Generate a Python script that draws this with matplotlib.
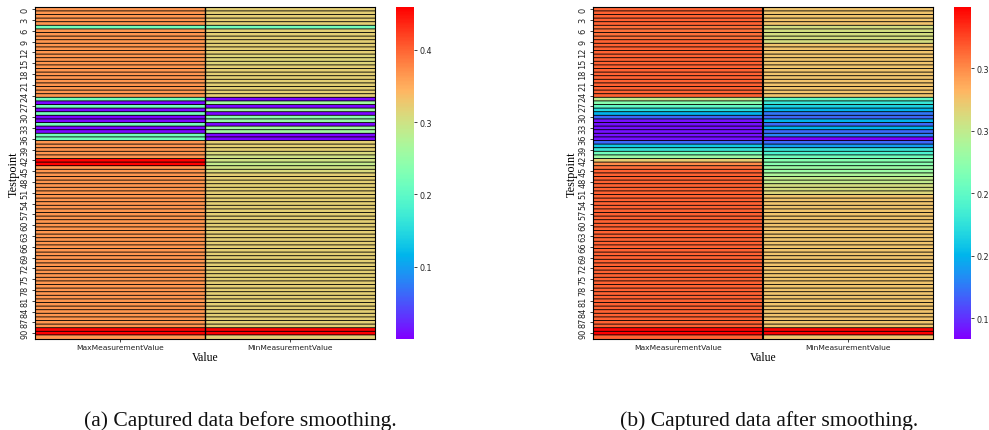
#!/usr/bin/env python3

import matplotlib
matplotlib.use('Agg')
import matplotlib.pyplot as plt
import numpy as np

COLUMNS = ['MaxMeasurementValue', 'MinMeasurementValue']
ROW_TICKS = list(range(0, 92, 3))

# panel (a), before smoothing, rows 0-91
BEFORE_MAX = [
    .367, .367, .367, .367, .367, .22, .367, .367, .367, .367,
    .367, .367, .367, .367, .367, .367, .367, .367, .367, .367,
    .367, .367, .367, .367, .367, .22, .005, .22, .005, .22,
    .005, .005, .22, .005, .005, .22, .22, .367, .367, .367,
    .367, .367, .459, .459, .367, .367, .367, .367, .367, .367,
    .367, .367, .367, .367, .367, .367, .367, .367, .367, .367,
    .367, .367, .367, .367, .367, .367, .367, .367, .367, .367,
    .367, .367, .367, .367, .367, .367, .367, .367, .367, .367,
    .367, .367, .367, .367, .367, .367, .367, .367, .367, .459,
    .459, .367,
]
BEFORE_MIN = [
    .32, .32, .32, .32, .32, .22, .32, .32, .32, .32,
    .32, .32, .32, .315, .315, .315, .32, .32, .32, .32,
    .32, .32, .32, .32, .32, .005, .26, .005, .26, .005,
    .24, .25, .005, .26, .26, .005, .005, .32, .32, .32,
    .31, .30, .30, .29, .30, .31, .32, .32, .32, .32,
    .32, .32, .32, .32, .32, .32, .32, .32, .32, .32,
    .32, .32, .32, .32, .32, .32, .32, .32, .32, .32,
    .32, .32, .32, .32, .32, .32, .32, .32, .32, .32,
    .32, .32, .32, .32, .32, .32, .32, .32, .32, .459,
    .459, .32,
]

# panel (b), after smoothing, rows 0-91
AFTER_MAX = [
    .315, .315, .315, .315, .315, .31, .31, .31, .31, .315,
    .315, .315, .315, .315, .315, .315, .315, .315, .315, .315,
    .315, .315, .315, .315, .315, .25, .22, .20, .17, .15,
    .12, .09, .09, .09, .09, .09, .09, .12, .16, .18,
    .21, .23, .27, .30, .31, .315, .315, .315, .315, .315,
    .315, .315, .315, .315, .315, .315, .315, .315, .315, .315,
    .315, .315, .315, .315, .315, .315, .315, .315, .315, .315,
    .315, .315, .315, .315, .315, .315, .315, .315, .315, .315,
    .315, .315, .315, .315, .315, .315, .315, .315, .315, .349,
    .349, .315,
]
AFTER_MIN = [
    .275, .275, .275, .275, .275, .26, .26, .26, .26, .26,
    .275, .275, .275, .275, .275, .275, .275, .275, .275, .275,
    .275, .275, .275, .275, .275, .20, .18, .165, .15, .125,
    .12, .15, .12, .15, .12, .13, .085, .12, .14, .18,
    .19, .21, .22, .22, .23, .23, .24, .25, .25, .26,
    .26, .265, .275, .275, .275, .275, .275, .275, .275, .275,
    .275, .275, .275, .275, .275, .275, .275, .275, .275, .275,
    .275, .275, .275, .275, .275, .275, .275, .275, .275, .275,
    .275, .275, .275, .275, .275, .275, .275, .275, .275, .349,
    .349, .275,
]

BEFORE_CBAR_TICKS = [0.1, 0.2, 0.3, 0.4]
BEFORE_CBAR_LABELS = ['0.1', '0.2', '0.3', '0.4']
AFTER_CBAR_TICKS = [0.10, 0.15, 0.20, 0.25, 0.30]
AFTER_CBAR_LABELS = ['0.1', '0.2', '0.2', '0.3', '0.3']

WIDTH, HEIGHT = 989, 431
SERIF = 'Liberation Serif'


def px_axes(fig, left, top, right, bottom):
    return fig.add_axes([left / WIDTH, 1 - bottom / HEIGHT,
                         (right - left) / WIDTH, (bottom - top) / HEIGHT])


def draw_panel(fig, max_values, min_values, vmin, vmax, cbar_ticks, cbar_labels,
               box, cbar_box, caption, caption_x, split_width):
    ax = px_axes(fig, *box)
    values = np.column_stack([max_values, min_values])
    mesh = ax.pcolormesh(values, cmap='rainbow', vmin=vmin, vmax=vmax)
    # grid lines drawn apart from the mesh, unsnapped, so they stay thin and soft
    ax.hlines(np.arange(1, len(max_values)), 0, 2, color='black', linewidth=0.62, snap=False)
    ax.axvline(1, color='black', linewidth=split_width)
    ax.set_ylim(len(max_values), 0)
    ax.set_xticks([0.5, 1.5], COLUMNS, fontsize=5.4)
    ax.set_yticks([t + 0.5 for t in ROW_TICKS], [str(t) for t in ROW_TICKS],
                  fontsize=5.9, rotation=90, va='center')
    ax.tick_params(length=2, width=0.6, pad=2, colors='#222222')
    ax.set_xlabel('Value', fontfamily=SERIF, fontsize=8.4, labelpad=1)
    ax.set_ylabel('Testpoint', fontfamily=SERIF, fontsize=8.8, labelpad=0.5)
    for spine in ax.spines.values():
        spine.set_linewidth(0.8)

    cax = px_axes(fig, *cbar_box)
    cbar = fig.colorbar(mesh, cax=cax)
    cbar.outline.set_visible(False)
    cbar.set_ticks(cbar_ticks, labels=cbar_labels)
    cbar.ax.tick_params(labelsize=5.8, length=2, width=0.6, pad=2, colors='#222222')

    fig.text(caption_x / WIDTH, 1 - 421 / HEIGHT, caption, fontfamily=SERIF,
             fontsize=15.6, ha='center', va='center', color='#111111')


def main():
    fig = plt.figure(figsize=(WIDTH / 100, HEIGHT / 100), dpi=100)
    draw_panel(fig, BEFORE_MAX, BEFORE_MIN, 0.0007, 0.459,
               BEFORE_CBAR_TICKS, BEFORE_CBAR_LABELS,
               (35, 8.3, 375, 339.5), (396, 8.3, 414, 339.5),
               '(a) Captured data before smoothing.', 240, 1.0)
    draw_panel(fig, AFTER_MAX, AFTER_MIN, 0.0838, 0.349,
               AFTER_CBAR_TICKS, AFTER_CBAR_LABELS,
               (593, 8.3, 933, 339.5), (954, 8.3, 971, 339.5),
               '(b) Captured data after smoothing.', 769, 1.5)
    fig.savefig('out.png', dpi=100)


if __name__ == '__main__':
    main()
